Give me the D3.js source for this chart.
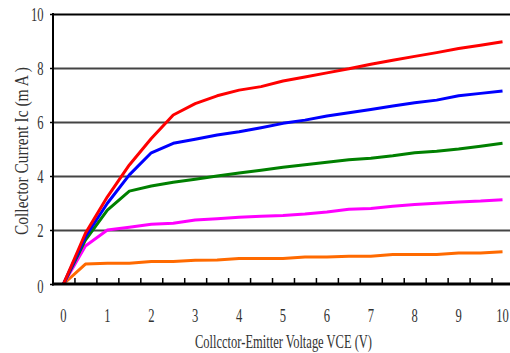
<!DOCTYPE html>
<html><head><meta charset="utf-8">
<script src="https://cdn.jsdelivr.net/npm/d3@7"></script>
<style>body{margin:0;background:#fff}svg{display:block}</style>
</head><body>
<script>
const vce = [0,0.5,1,1.5,2,2.5,3,3.5,4,4.5,5,5.5,6,6.5,7,7.5,8,8.5,9,9.5,10];
const icRed     = [0,1.88,3.23,4.41,5.39,6.26,6.68,6.97,7.18,7.31,7.52,7.67,7.82,7.97,8.14,8.29,8.43,8.57,8.72,8.84,8.97];
const icBlue    = [0,1.75,2.99,4.04,4.86,5.21,5.36,5.52,5.64,5.79,5.95,6.07,6.22,6.34,6.46,6.59,6.71,6.81,6.97,7.06,7.15];
const icGreen   = [0,1.63,2.74,3.44,3.63,3.77,3.88,4.0,4.11,4.21,4.32,4.42,4.51,4.6,4.66,4.75,4.86,4.92,5.0,5.1,5.21];
const icMagenta = [0,1.41,2.0,2.1,2.21,2.25,2.37,2.42,2.47,2.51,2.54,2.59,2.67,2.77,2.8,2.88,2.94,2.99,3.04,3.07,3.12];
const icOrange  = [0,0.74,0.77,0.77,0.83,0.83,0.88,0.89,0.94,0.94,0.94,1.0,1.0,1.03,1.03,1.09,1.09,1.09,1.15,1.15,1.19];
const series = [
  {name:"orange", values:icOrange, color:"#ff6a00"},
  {name:"magenta", values:icMagenta, color:"#ff00ff"},
  {name:"green", values:icGreen, color:"#008000"},
  {name:"blue", values:icBlue, color:"#0000ff"},
  {name:"red", values:icRed, color:"#ff0000"}
];
const xTickLabels = [0,1,2,3,4,5,6,7,8,9,10];
const yTickLabels = [0,2,4,6,8,10];
const xBoundaries = d3.range(0.25, 10.3, 0.5);

const W=510,H=353;
const svg = d3.select("body").append("svg").attr("width",W).attr("height",H);
const x = d3.scaleLinear().domain([-0.25,10.25]).range([52.5,513.5]);
const y = d3.scaleLinear().domain([0,10]).range([284,14]);
const font = "'Liberation Serif','Times New Roman',serif";

// gridlines
const grid = svg.append("g").attr("transform","translate(52.5,0)")
  .call(d3.axisLeft(y).tickValues(yTickLabels.slice(1)).tickSize(-(W-52.5)).tickFormat(""));
grid.select(".domain").remove();
grid.selectAll("line").attr("stroke",(d)=> d===10 ? "#000" : "#444").attr("stroke-width",2);

// y ticks outward
const ya = svg.append("g").attr("transform","translate(53,0)")
  .call(d3.axisLeft(y).tickValues(yTickLabels).tickSize(3).tickFormat(""));
ya.select(".domain").remove();
ya.selectAll("line").attr("stroke","#000").attr("stroke-width",1.5);

// lines
const line = d3.line().x((d,i)=>x(vce[i])).y(d=>y(d));
svg.append("g").selectAll("path").data(series).join("path")
  .attr("d",d=>line(d.values)).attr("fill","none")
  .attr("stroke",d=>d.color).attr("stroke-width",3).attr("stroke-linejoin","round");

// x axis: inward ticks at category boundaries
const xa = svg.append("g").attr("transform","translate(0,284)")
  .call(d3.axisBottom(x).tickValues(xBoundaries).tickSizeInner(-6).tickSizeOuter(0).tickFormat(""));
xa.select(".domain").remove();
xa.selectAll("line").attr("stroke","#000").attr("stroke-width",1.5);
svg.append("line").attr("x1",52).attr("x2",W).attr("y1",284).attr("y2",284).attr("stroke","#000").attr("stroke-width",3);
// left axis
svg.append("line").attr("x1",53).attr("x2",53).attr("y1",13).attr("y2",285.5).attr("stroke","#000").attr("stroke-width",2);

// tick labels
svg.append("g").selectAll("text").data(xTickLabels).join("text")
  .attr("transform",d=>`translate(${x(d)},322) scale(0.7,1)`)
  .attr("text-anchor","middle").attr("font-family",font).attr("font-size",18).attr("fill","#333")
  .text(d=>d);
svg.append("g").selectAll("text").data(yTickLabels).join("text")
  .attr("transform",d=>`translate(43.5,${y(d)+ (d===0?8.5:6.5)}) scale(0.7,1)`)
  .attr("text-anchor","end").attr("font-family",font).attr("font-size",18).attr("fill","#333")
  .text(d=>d);

// titles
svg.append("text").attr("x",195).attr("y",348).attr("font-family",font).attr("font-size",18)
  .attr("fill","#333").attr("textLength",177).attr("lengthAdjust","spacingAndGlyphs")
  .text("Collcctor-Emitter Voltage VCE (V)");
svg.append("text").attr("transform","translate(27.5,235) rotate(-90)").attr("font-family",font).attr("font-size",18)
  .attr("fill","#333").attr("textLength",168).attr("lengthAdjust","spacingAndGlyphs")
  .text("Collector Current Ic (m A )");
</script>
</body></html>
